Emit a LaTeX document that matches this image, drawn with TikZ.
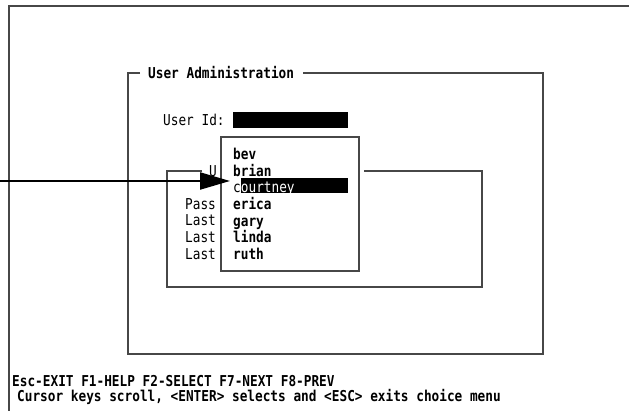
\documentclass[tikz,border=0pt]{standalone}
\usepackage{fontspec}
\newfontfamily\term{DejaVu Sans Mono}[FakeStretch=0.85]
\usetikzlibrary{arrows.meta}
\tikzset{
  lbl/.style={font=\term\fontsize{15}{15}\selectfont, inner sep=0pt, anchor=base west},
  blbl/.style={font=\term\bfseries\fontsize{15}{15}\selectfont, inner sep=0pt, anchor=base west},
  wlbl/.style={lbl, text=white},
  frame/.style={draw=black!72, line width=1.2pt},
  pointer/.style={line width=2.2pt, -{Triangle[length=30pt,width=17pt]}}
}
\begin{document}
\begin{tikzpicture}[x=1pt,y=-1pt]
\useasboundingbox[fill=white] (0,0) rectangle (629,411);
% outer screen frame
\draw[frame] (9,411) -- (9,6) -- (629,6);
% User Administration box
\node[blbl] (title) at (148,78.5) {User Administration};
\draw[frame] (140,73) -- (128,73) -- (128,354) -- (543,354) -- (543,73) -- (303,73);
\node[lbl] (uid) at (163,125.5) {User Id:};
\fill[black] (233,112) rectangle (348,128);
% box behind the choice menu
\draw[frame] (202,171) -- (167,171) -- (167,287) -- (482,287) -- (482,171) -- (364,171);
\node[lbl] (u) at (209,176.5) {U};
\node[lbl] (pass) at (185,209.5) {Pass};
\node[lbl] (last1) at (185,226) {Last};
\node[lbl] (last2) at (185,242.5) {Last};
\node[lbl] (last3) at (185,259.5) {Last};
% choice menu
\draw[frame, fill=white] (221,137) rectangle (359,271);
\node[blbl] (i1) at (233,159.5) {bev};
\node[blbl] (i2) at (233,176.2) {brian};
\node[lbl] (i3a) at (233,192.8) {c};
\fill[black] (241,178) rectangle (348,193.5);
\node[wlbl] (i3b) at (240.7,192.8) {ourtney};
\node[blbl] (i4) at (233,209.5) {erica};
\node[blbl] (i5) at (233,226.2) {gary};
\node[blbl] (i6) at (233,242.8) {linda};
\node[blbl] (i7) at (233,259.5) {ruth};
% pointer arrow
\coordinate (src) at (0,181);
\coordinate (tgt) at (230,181);
\draw[pointer] (src) -- (tgt);
% status lines
\node[blbl] (keys) at (12,386) {Esc-EXIT F1-HELP F2-SELECT F7-NEXT F8-PREV};
\node[blbl] (help) at (17,402) {Cursor keys scroll, <ENTER> selects and <ESC> exits choice menu};
\end{tikzpicture}
\end{document}
